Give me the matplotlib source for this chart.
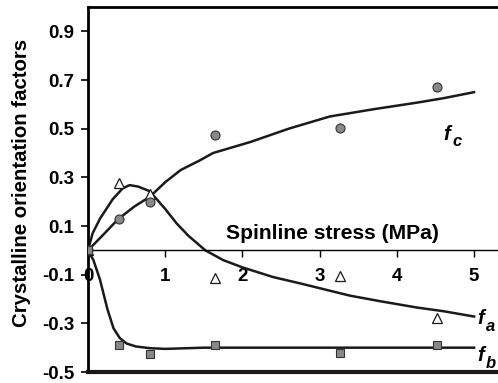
import numpy as np
import matplotlib
matplotlib.use("Agg")
import matplotlib.pyplot as plt

plt.rcParams['font.family'] = ['Liberation Sans', 'DejaVu Sans']
plt.rcParams['font.weight'] = 'bold'

# measured points
stress = [0, 0.40, 0.80, 1.64, 3.27, 4.52]
fc_pts = [0, 0.128, 0.20, 0.474, 0.503, 0.672]
fa_pts = [0, 0.276, 0.23, -0.115, -0.107, -0.28]
fb_pts = [0, -0.388, -0.425, -0.388, -0.42, -0.387]

# fitted curves
fc_x = [0, 0.2, 0.39, 0.6, 0.8, 1.0, 1.2, 1.45, 1.62, 2.1, 2.6, 3.13, 3.7, 4.26, 4.6, 5.0]
fc_y = [0, 0.065, 0.128, 0.18, 0.22, 0.28, 0.33, 0.37, 0.40, 0.445, 0.50, 0.55, 0.58, 0.607, 0.625, 0.65]

fa_x = [0, 0.06, 0.155, 0.32, 0.45, 0.54, 0.65, 0.8, 1.0, 1.15, 1.3, 1.52, 1.75, 2.0, 2.4, 2.75, 3.39, 3.8, 4.26, 4.6, 5.0]
fa_y = [0, 0.07, 0.13, 0.21, 0.255, 0.268, 0.262, 0.243, 0.17, 0.11, 0.06, 0.0, -0.04, -0.07, -0.11, -0.136, -0.186, -0.21, -0.235, -0.25, -0.272]

fb_x = [0, 0.07, 0.155, 0.25, 0.33, 0.41, 0.5, 0.62, 0.8, 1.0, 1.5, 2.0, 3.0, 4.0, 5.0]
fb_y = [0, -0.04, -0.12, -0.24, -0.32, -0.36, -0.383, -0.395, -0.402, -0.405, -0.40, -0.40, -0.40, -0.40, -0.40]

fig = plt.figure(figsize=(4.98, 3.83), dpi=100)
ax = fig.add_axes([0.1767, 0.0287, 0.8233, 0.953])

ax.plot(fc_x, fc_y, color='#1a1a1a', lw=1.8, zorder=2)
ax.plot(fa_x, fa_y, color='#1a1a1a', lw=1.8, zorder=2)
ax.plot(fb_x, fb_y, color='#1a1a1a', lw=1.8, zorder=2)

ax.plot(stress, fa_pts, ls='none', marker='^', ms=7, mfc='white', mec='#1a1a1a', mew=0.9, zorder=3)
ax.plot(stress, fc_pts, ls='none', marker='o', ms=6.5, mfc='#888888', mec='#333333', mew=0.8, zorder=3)
ax.plot(stress, fb_pts, ls='none', marker='s', ms=6, mfc='#888888', mec='#333333', mew=0.8, zorder=3)

ax.set_xlim(0, 5.31)
ax.set_ylim(-0.5, 1.0)

ax.spines['bottom'].set_position(('data', 0))
ax.spines['bottom'].set_linewidth(1.0)
ax.spines['right'].set_visible(False)
ax.spines['left'].set_linewidth(2.0)
ax.spines['top'].set_linewidth(2.0)
ax.axhline(-0.5, color='#1a1a1a', lw=3.0, clip_on=False)

ax.set_xticks([0, 1, 2, 3, 4, 5])
ax.set_yticks([-0.5, -0.3, -0.1, 0.1, 0.3, 0.5, 0.7, 0.9])
ax.set_yticklabels(['-0.5', '-0.3', '-0.1', '0.1', '0.3', '0.5', '0.7', '0.9'])
ax.tick_params(axis='x', direction='out', length=5, width=1, pad=8, labelsize=13.5)
ax.tick_params(axis='y', direction='out', length=5, width=1.2, pad=5, labelsize=13.5)
for t in ax.get_xticklabels() + ax.get_yticklabels():
    t.set_fontweight('bold')

ax.text(3.17, 0.07, 'Spinline stress (MPa)', fontsize=15.2, fontweight='bold',
        ha='center', va='center')
ax.set_ylabel('Crystalline orientation factors', fontsize=14.7, fontweight='bold')
ax.yaxis.set_label_coords(-0.138, 0.519)

for lab, sub, x, y in [('f', 'c', 4.60, 0.478), ('f', 'a', 5.04, -0.28), ('f', 'b', 5.04, -0.433)]:
    ax.annotate(lab, (x, y), fontsize=14.5, fontweight='bold', fontstyle='italic',
                ha='left', va='center', annotation_clip=False)
    ax.annotate(sub, (x, y), xytext=(6.5, -5.5), textcoords='offset points', fontsize=12,
                fontweight='bold', fontstyle='italic', ha='left', va='center',
                annotation_clip=False)

fig.savefig('out.png', dpi=100)
